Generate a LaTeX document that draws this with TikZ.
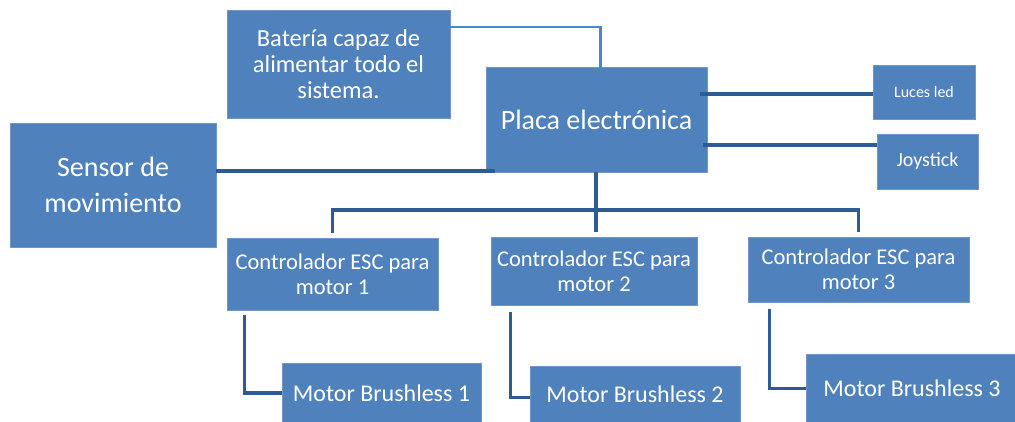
\documentclass[tikz,border=0pt]{standalone}
\usepackage{fontspec}
\setmainfont{Carlito}
\definecolor{boxblue}{HTML}{4F81BD}
\definecolor{boxedge}{HTML}{6F97CB}
\definecolor{darkline}{HTML}{2E5B93}
\definecolor{lightline}{HTML}{4A86D6}
\tikzset{
  box/.style={fill=boxblue, draw=boxedge, line width=0.8pt, text=white, inner sep=0pt, align=center},
  conn/.style={draw=darkline, line width=3.5pt},
  connlight/.style={draw=lightline, line width=2.8pt}
}
\begin{document}
\begin{tikzpicture}[x=1pt,y=-1pt]
\useasboundingbox (0,0) rectangle (1015,421);
% boxes
\node[box, minimum width=223pt, minimum height=108pt, font=\fontsize{24.5}{26}\selectfont] (bat) at (338.5,64) {Batería capaz de\\alimentar todo el\\sistema.};
\node[box, minimum width=221pt, minimum height=105pt, font=\fontsize{28}{32}\selectfont] (placa) at (596.5,119.5) {Placa electrónica};
\node[box, minimum width=206pt, minimum height=124pt, font=\fontsize{28}{36}\selectfont] (sensor) at (113,185) {Sensor de\\movimiento};
\node[box, minimum width=102pt, minimum height=54pt, font=\fontsize{16}{19}\selectfont] (luces) at (924,92) {Luces led};
\node[box, minimum width=101pt, minimum height=55pt, font=\fontsize{20}{24}\selectfont] (joy) at (927.5,161.5) {Joystick};
\node[box, minimum width=211pt, minimum height=72pt, font=\fontsize{22.5}{25}\selectfont] (esc1) at (332.5,274) {Controlador ESC para\\motor 1};
\node[box, minimum width=206pt, minimum height=68pt, font=\fontsize{22.5}{25}\selectfont] (esc2) at (594,271) {Controlador ESC para\\motor 2};
\node[box, minimum width=221pt, minimum height=65pt, font=\fontsize{22.5}{25}\selectfont] (esc3) at (858.5,269.5) {Controlador ESC para\\motor 3};
\node[box, minimum width=199pt, minimum height=60pt, font=\fontsize{24}{28}\selectfont] (m1) at (381.5,393) {Motor Brushless 1};
\node[box, minimum width=210pt, minimum height=57pt, font=\fontsize{24}{28}\selectfont] (m2) at (635,394.5) {Motor Brushless 2};
\node[box, minimum width=212pt, minimum height=69pt, font=\fontsize{24}{28}\selectfont] (m3) at (912,388.5) {Motor Brushless 3};
% connectors
\draw[connlight] ([xshift=-3pt]bat.east |- 0,27) -| ([xshift=4pt,yshift=-3pt]placa.north);
\draw[conn] (sensor.east |- 0,171) -- ([xshift=9pt]placa.west |- 0,171);
\draw[conn] ([xshift=-7pt]placa.east |- 0,94) -- (luces.west |- 0,94);
\draw[conn] ([xshift=-4pt]placa.east |- 0,145) -- (joy.west |- 0,145);
\coordinate (bus) at (596,210);
\draw[conn] (placa.south -| bus) -- (bus);
\draw[conn] ([yshift=5pt]esc1.north) |- (bus) -| ([yshift=5pt]esc3.north);
\draw[conn] (bus) -- ([yshift=5pt]esc2.north -| bus);
\draw[conn] ([xshift=18pt,yshift=-5pt]esc1.south west) |- (m1.west);
\draw[conn] ([xshift=20pt,yshift=-7pt]esc2.south west) |- ([yshift=-3pt]m2.west);
\draw[conn] ([xshift=22pt,yshift=-7pt]esc3.south west) |- (m3.west);
\end{tikzpicture}
\end{document}
